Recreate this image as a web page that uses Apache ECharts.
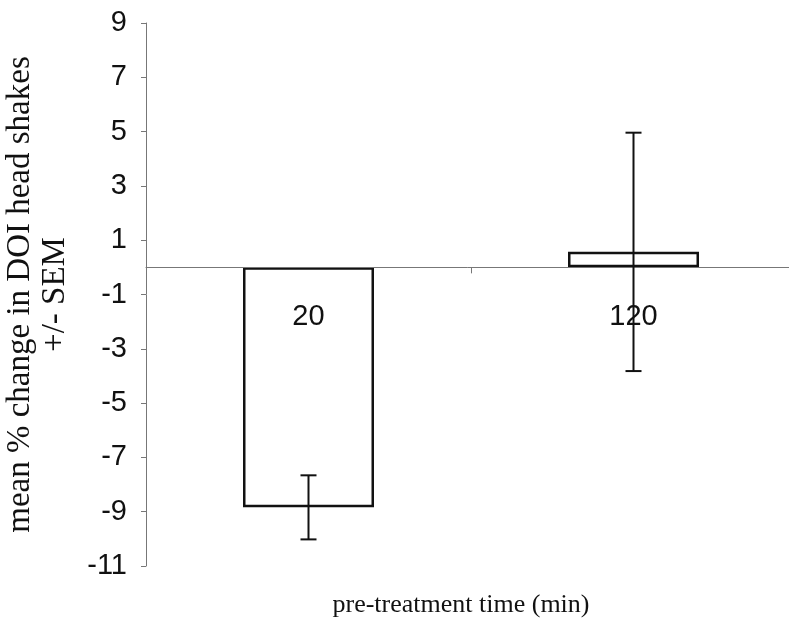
<!DOCTYPE html>
<html>
<head>
<meta charset="utf-8">
<script src="https://cdn.jsdelivr.net/npm/echarts@6/dist/echarts.min.js"></script>
<style>
  html, body { margin: 0; padding: 0; background: #fff; }
  #chart { width: 789px; height: 623px; }
</style>
</head>
<body>
<div id="chart"></div>
<script>
// Pre-treatment times (min)
const categories = ['20', '120'];
// Mean % change in DOI-induced head shakes
const meanChange = [-8.84, 0.57];
// Standard error of the mean
const semValues = [1.18, 4.39];
// Y-axis tick labels
const yTicks = [-11, -9, -7, -5, -3, -1, 1, 3, 5, 7, 9];

const chart = echarts.init(document.getElementById('chart'), null, { renderer: 'canvas' });

const errorData = meanChange.map((m, i) => [i, m - semValues[i], m + semValues[i]]);

const option = {
  animation: false,
  backgroundColor: '#ffffff',
  grid: { left: 146, right: -7, top: 23, bottom: 57, containLabel: false, outerBoundsMode: 'none' },
  xAxis: {
    type: 'category',
    data: categories,
    z: 3,
    axisLine: { onZero: true, lineStyle: { color: '#777', width: 1 } },
    axisTick: { show: true, length: 6, alignWithLabel: false, lineStyle: { color: '#777' } },
    axisLabel: {
      margin: -264,
      fontFamily: 'Liberation Sans, Arial, sans-serif',
      fontSize: 29,
      color: '#111'
    },
    name: 'pre-treatment time (min)',
    nameLocation: 'middle',
    nameGap: 26,
    nameTextStyle: {
      fontFamily: 'Liberation Serif, Times New Roman, serif',
      fontSize: 26,
      color: '#111',
      padding: [0, 20, 0, 0]
    }
  },
  yAxis: {
    type: 'value',
    min: -11,
    max: 9,
    splitLine: { show: false },
    axisLine: { show: true, lineStyle: { color: '#777', width: 1 } },
    axisTick: { show: true, length: 5, customValues: yTicks, lineStyle: { color: '#777' } },
    axisLabel: {
      customValues: yTicks,
      margin: 19,
      fontFamily: 'Liberation Sans, Arial, sans-serif',
      fontSize: 29,
      color: '#111'
    },
    name: 'mean % change in DOI head shakes\n+/- SEM',
    nameLocation: 'middle',
    nameRotate: 90,
    nameGap: 73,
    nameTextStyle: {
      fontFamily: 'Liberation Serif, Times New Roman, serif',
      fontSize: 33,
      lineHeight: 35,
      color: '#111',
      align: 'center'
    }
  },
  series: [
    {
      type: 'bar',
      data: meanChange,
      barWidth: 131,
      itemStyle: { color: '#ffffff', borderColor: '#111', borderWidth: 2.5 },
      z: 2
    },
    {
      type: 'custom',
      data: errorData,
      z: 4,
      renderItem: function (params, api) {
        const x = api.value(0);
        const lo = api.coord([x, api.value(1)]);
        const hi = api.coord([x, api.value(2)]);
        const cap = 8;
        const style = { stroke: '#111', lineWidth: 2 };
        return {
          type: 'group',
          children: [
            { type: 'line', shape: { x1: lo[0], y1: lo[1], x2: hi[0], y2: hi[1] }, style: style },
            { type: 'line', shape: { x1: lo[0] - cap, y1: lo[1], x2: lo[0] + cap, y2: lo[1] }, style: style },
            { type: 'line', shape: { x1: hi[0] - cap, y1: hi[1], x2: hi[0] + cap, y2: hi[1] }, style: style }
          ]
        };
      }
    }
  ]
};

chart.setOption(option);
</script>
</body>
</html>
